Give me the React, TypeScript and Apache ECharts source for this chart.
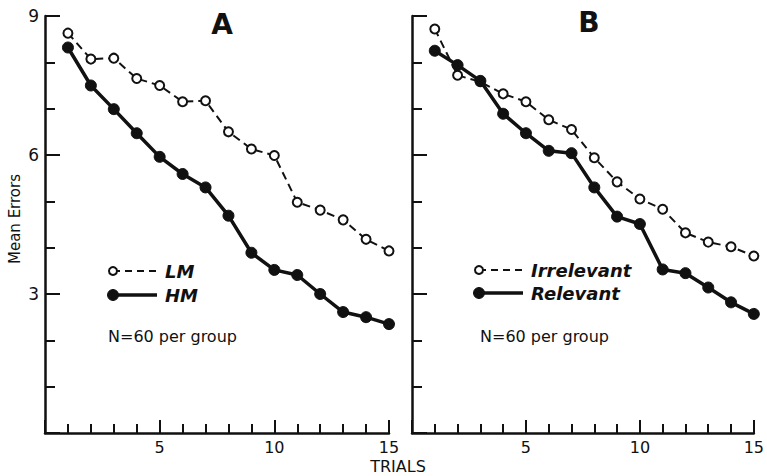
import React, { useEffect, useRef } from "react";
import * as echarts from "echarts";

const trials = [1, 2, 3, 4, 5, 6, 7, 8, 9, 10, 11, 12, 13, 14, 15];
const lmErrors = [8.63, 8.07, 8.09, 7.65, 7.5, 7.15, 7.17, 6.5, 6.13, 5.99, 4.98, 4.81, 4.6, 4.18, 3.93];
const hmErrors = [8.32, 7.5, 6.99, 6.47, 5.96, 5.59, 5.3, 4.69, 3.89, 3.52, 3.41, 3.0, 2.61, 2.5, 2.35];
const irrelevantErrors = [8.72, 7.72, 7.58, 7.32, 7.15, 6.76, 6.55, 5.94, 5.42, 5.05, 4.83, 4.32, 4.12, 4.02, 3.82];
const relevantErrors = [8.25, 7.94, 7.6, 6.89, 6.47, 6.09, 6.04, 5.3, 4.67, 4.51, 3.53, 3.45, 3.14, 2.82, 2.57];
const yTicks = [3, 6, 9];
const xTicks = [5, 10, 15];

const INK = "#111";
const FONT = "DejaVu Sans";

const pairs = (vals: number[]) => trials.map((t, i) => [t, vals[i]]);

function xAxisCfg(gridIndex: number) {
  return {
    type: "value",
    gridIndex,
    position: "bottom",
    min: 0,
    max: 15,
    interval: 1,
    axisLine: { show: true, onZero: false, lineStyle: { color: INK, width: 2.5 } },
    axisTick: { show: true, inside: true, length: 9, lineStyle: { color: INK, width: 2 } },
    axisLabel: {
      color: INK,
      fontFamily: FONT,
      fontSize: 16,
      margin: 6,
      formatter: (v: number) => (xTicks.includes(v) ? String(v) : ""),
    },
    splitLine: { show: false },
  };
}

function xMajorCfg(gridIndex: number) {
  return {
    type: "value",
    gridIndex,
    position: "bottom",
    min: 0,
    max: 15,
    interval: 5,
    axisLine: { show: false, onZero: false },
    axisTick: { show: true, inside: true, length: 13, lineStyle: { color: INK, width: 2 } },
    axisLabel: { show: false },
    splitLine: { show: false },
  };
}

function yAxisCfg(gridIndex: number, labels: boolean) {
  return {
    type: "value",
    gridIndex,
    position: "left",
    min: 0,
    max: 9,
    interval: 1,
    axisLine: { show: true, onZero: false, lineStyle: { color: INK, width: 2.5 } },
    axisTick: { show: true, inside: true, length: 10, lineStyle: { color: INK, width: 2 } },
    axisLabel: {
      show: labels,
      color: INK,
      fontFamily: FONT,
      fontSize: 17,
      margin: 6,
      formatter: (v: number) => (yTicks.includes(v) ? String(v) : ""),
    },
    splitLine: { show: false },
  };
}

function yMajorCfg(gridIndex: number) {
  return {
    type: "value",
    gridIndex,
    position: "left",
    min: 0,
    max: 9,
    interval: 3,
    axisLine: { show: false, onZero: false },
    axisTick: { show: true, inside: true, length: 15, lineStyle: { color: INK, width: 2 } },
    axisLabel: { show: false },
    splitLine: { show: false },
  };
}

function openSeries(name: string, vals: number[], idx: number) {
  return {
    name,
    type: "line",
    xAxisIndex: idx,
    yAxisIndex: idx,
    data: pairs(vals),
    symbol: "circle",
    symbolSize: 9,
    showSymbol: true,
    z: 2,
    lineStyle: { color: INK, width: 2, type: [8, 5] },
    itemStyle: { color: "#fff", borderColor: INK, borderWidth: 2 },
  };
}

function filledSeries(name: string, vals: number[], idx: number) {
  return {
    name,
    type: "line",
    xAxisIndex: idx,
    yAxisIndex: idx,
    data: pairs(vals),
    symbol: "circle",
    symbolSize: 11,
    showSymbol: true,
    z: 3,
    lineStyle: { color: INK, width: 3.5 },
    itemStyle: { color: INK, borderColor: INK, borderWidth: 1 },
  };
}

function legendEntry(x: number, y: number, open: boolean, label: string) {
  return [
    {
      type: "line",
      shape: { x1: x, y1: y, x2: x + 44, y2: y },
      style: open
        ? { stroke: INK, lineWidth: 2, lineDash: [7, 5] }
        : { stroke: INK, lineWidth: 3.5 },
    },
    {
      type: "circle",
      shape: { cx: x, cy: y, r: open ? 4 : 5.5 },
      style: open ? { fill: "#fff", stroke: INK, lineWidth: 2 } : { fill: INK, stroke: INK },
    },
    {
      type: "text",
      x: x + 52,
      y: y,
      style: {
        text: label,
        fill: INK,
        font: `italic bold 18px ${FONT}`,
        textAlign: "left",
        textVerticalAlign: "middle",
        align: "left",
        verticalAlign: "middle",
      },
    },
  ];
}

function plainText(x: number, y: number, text: string, font: string, align = "left", rotation = 0) {
  return {
    type: "text",
    x,
    y,
    rotation,
    style: {
      text,
      fill: INK,
      font,
      textAlign: align,
      textVerticalAlign: "middle",
      align,
      verticalAlign: "middle",
    },
  };
}

export default function App() {
  const ref = useRef<HTMLDivElement>(null);
  useEffect(() => {
    if (!ref.current) return;
    const chart = echarts.init(ref.current, null, { renderer: "svg" });
    chart.setOption({
      animation: false,
      backgroundColor: "#fff",
      grid: [
        { left: 45, top: 16, width: 344, height: 417 },
        { left: 412, top: 16, width: 346, height: 417 },
      ],
      xAxis: [xAxisCfg(0), xAxisCfg(1), xMajorCfg(0), xMajorCfg(1)],
      yAxis: [yAxisCfg(0, true), yAxisCfg(1, false), yMajorCfg(0), yMajorCfg(1)],
      series: [
        openSeries("LM", lmErrors, 0),
        filledSeries("HM", hmErrors, 0),
        openSeries("Irrelevant", irrelevantErrors, 1),
        filledSeries("Relevant", relevantErrors, 1),
      ],
      graphic: [
        plainText(222, 24, "A", `bold 28px ${FONT}`, "center"),
        plainText(589, 22, "B", `bold 28px ${FONT}`, "center"),
        ...legendEntry(113, 271, true, "LM"),
        ...legendEntry(113, 295, false, "HM"),
        ...legendEntry(479, 270, true, "Irrelevant"),
        ...legendEntry(479, 293, false, "Relevant"),
        plainText(108, 336, "N=60 per group", `16px ${FONT}`),
        plainText(480, 336, "N=60 per group", `16px ${FONT}`),
        plainText(398, 466, "TRIALS", `16px ${FONT}`, "center"),
        plainText(15, 219, "Mean Errors", `15px ${FONT}`, "center", Math.PI / 2),
      ],
    });
    return () => chart.dispose();
  }, []);
  return (
    <div
      ref={ref}
      style={{ position: "absolute", left: 0, top: 0, width: 767, height: 476, background: "#fff" }}
    />
  );
}
